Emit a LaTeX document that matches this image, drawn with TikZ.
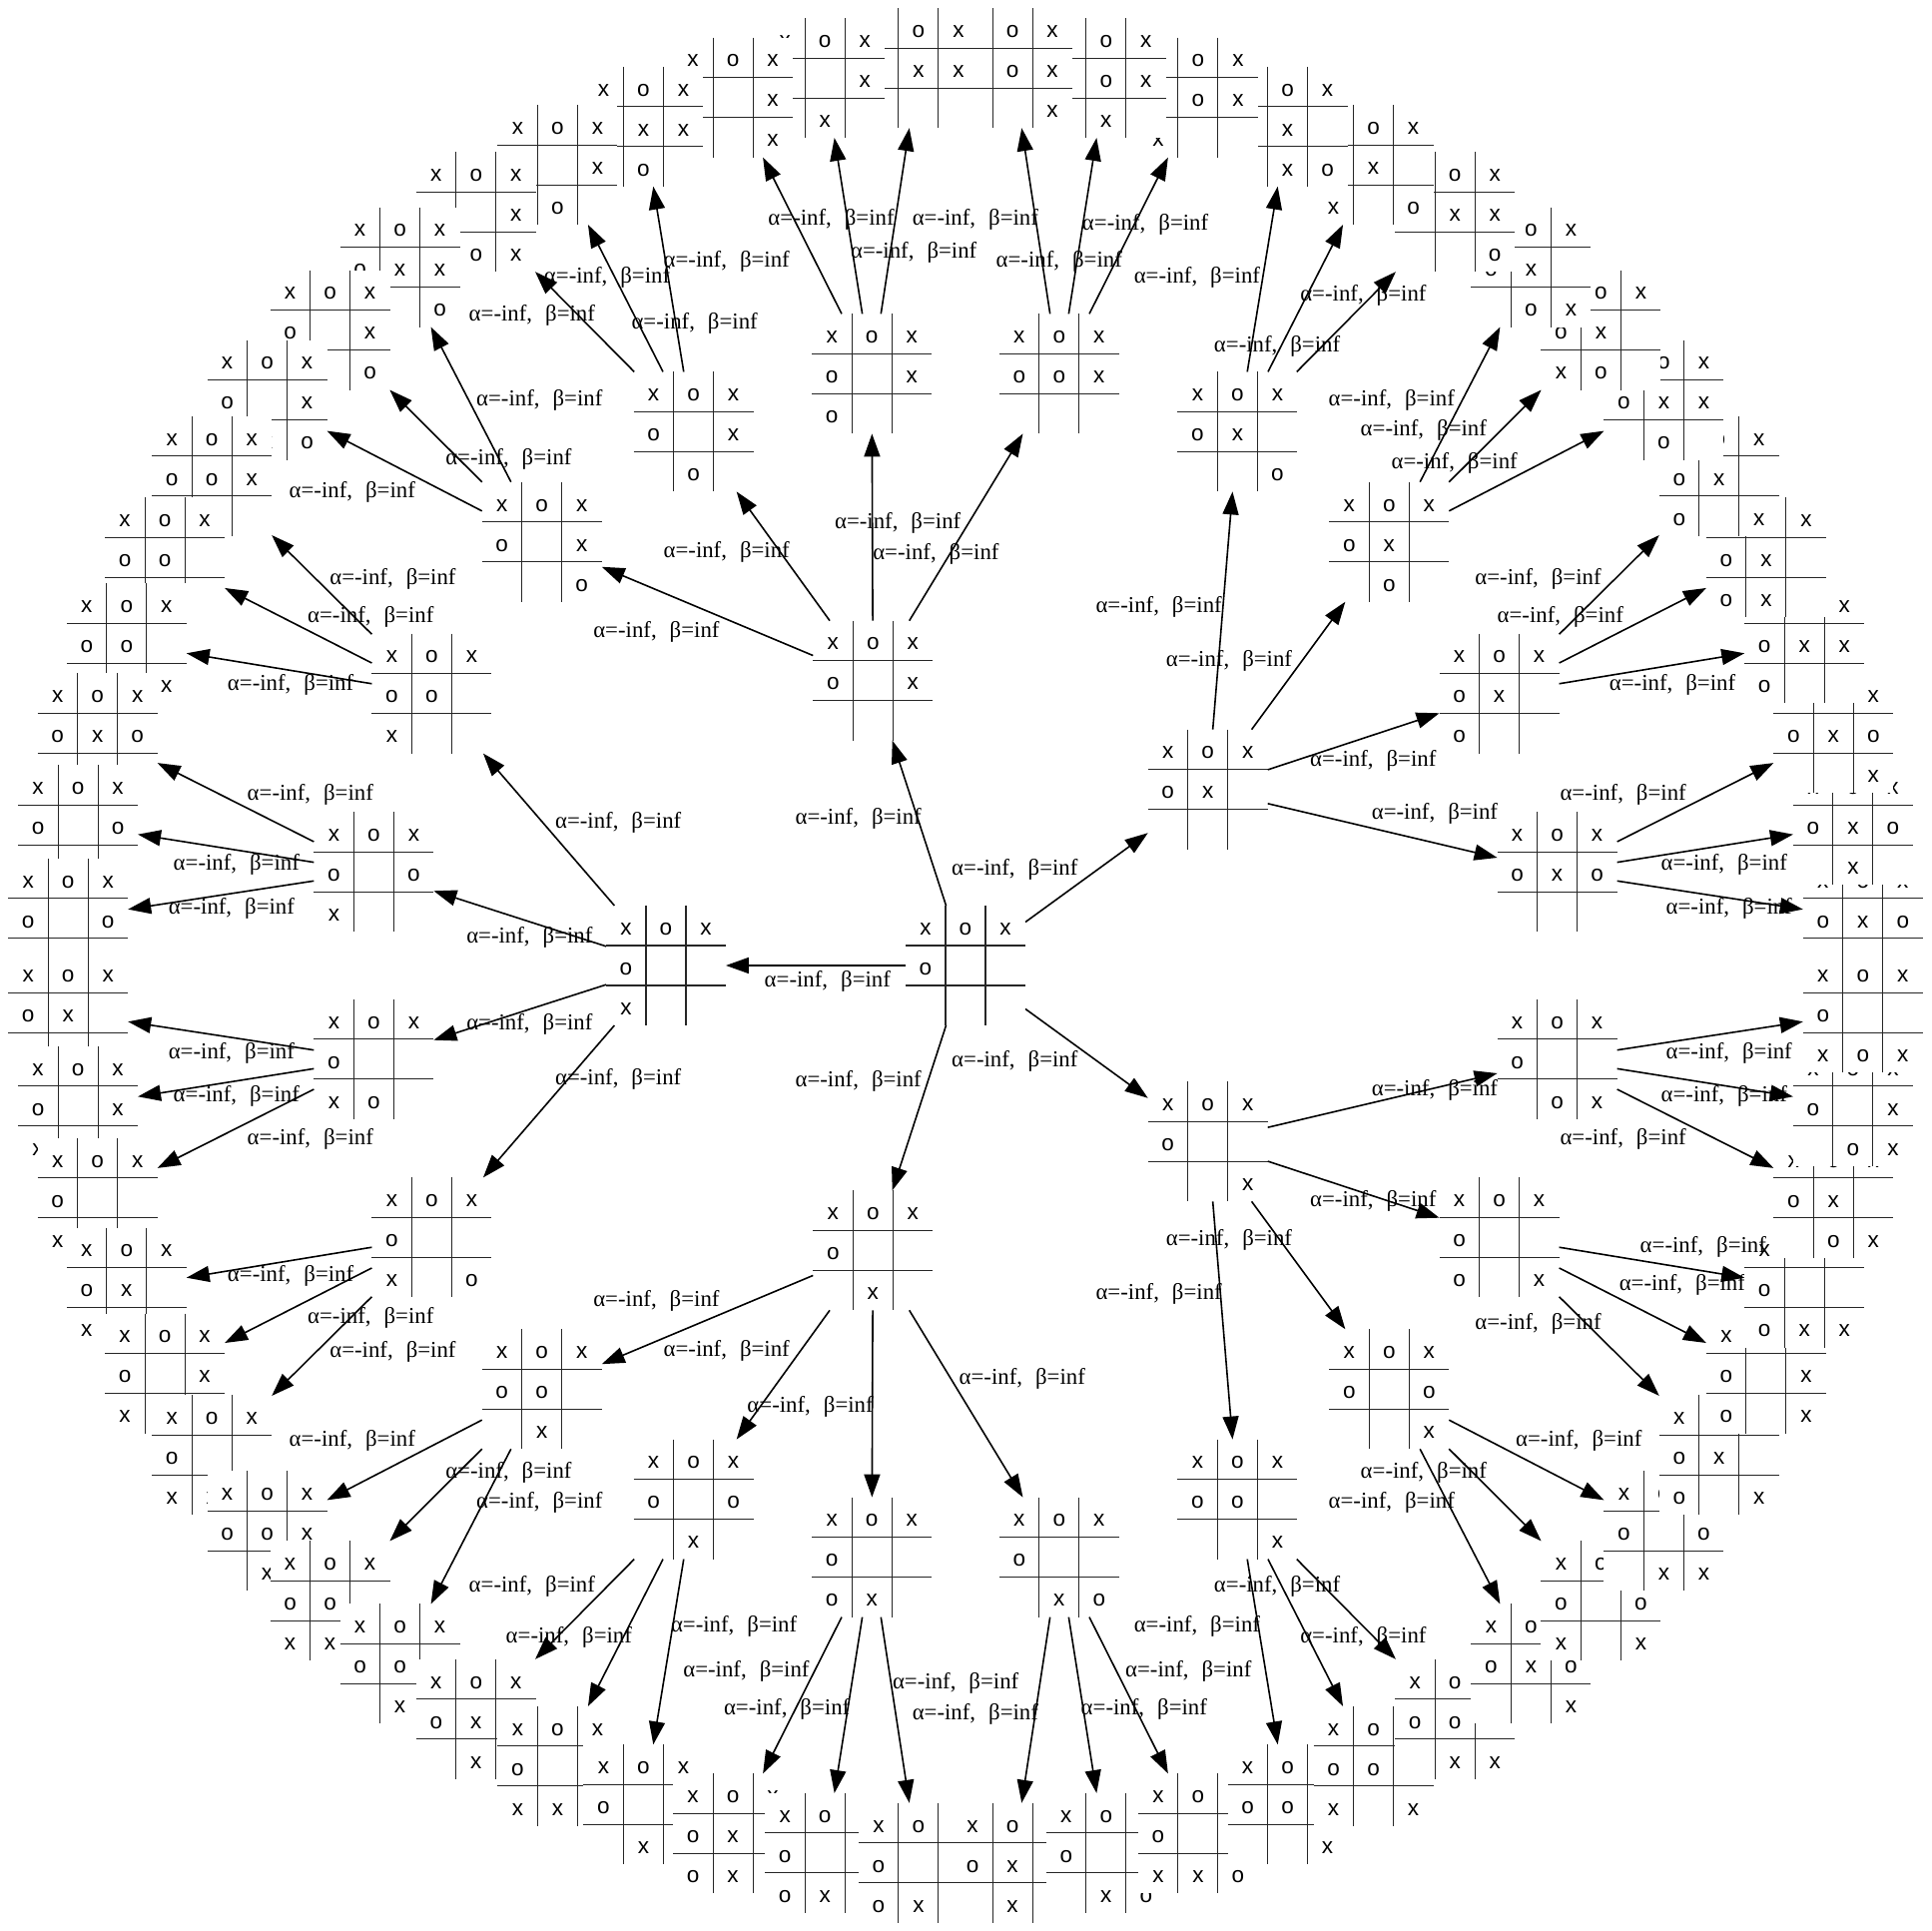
\documentclass[tikz,border=0pt]{standalone}
\usepackage{fontspec}
\setmainfont{Liberation Serif}
\newfontfamily\boardfont{Liberation Sans}
\usetikzlibrary{arrows.meta}
\tikzset{
 board/.style={rectangle, draw=none, fill=white, minimum width=120pt, minimum height=120pt, inner sep=0pt, outer sep=0pt},
 gridl/.style={line width=1.1pt, draw=black!85},
 cellt/.style={anchor=base, inner sep=0pt, font=\boardfont\fontsize{22.5pt}{27pt}\selectfont},
 conn/.style={line width=1.6pt, -{Triangle[length=23pt,width=16pt]}},
 lbl/.style={anchor=base, inner sep=0pt, font=\fontsize{22.8pt}{27pt}\selectfont},
}
\newcommand\labtext{α=-inf,\hspace{13pt}β=inf}
\newcommand\tttcell[6]{\if#6-\else\node[cellt] (#1r#2c#3) at (#4,#5) {#6};\fi}
\newcommand\tttrow[6]{\tttcell{#1}{#2}{1}{-40}{#3}{#4}\tttcell{#1}{#2}{2}{0}{#3}{#5}\tttcell{#1}{#2}{3}{40}{#3}{#6}}
\newcommand\bd[6]{%
 \begin{scope}[shift={(#2:#3)}]
 \node[board] (#1) at (0,0) {};
 \draw[gridl] (-20,60) -- (-20,-60) (20,60) -- (20,-60) (-60,20) -- (60,20) (-60,-20) -- (60,-20);
 \tttrow{#1}{1}{30.7}#4
 \tttrow{#1}{2}{-9.3}#5
 \tttrow{#1}{3}{-49.3}#6
 \end{scope}}
\newcommand\edg[4]{\draw[conn] (#1) -- (#2); \node[lbl] (L#2) at ({1.23342*#3-967},{967-1.23342*(#4+4.5)}) {\labtext};}
\begin{document}
\begin{tikzpicture}[x=1pt,y=1pt]
\useasboundingbox[fill=white] (-967,-967) rectangle (967,967);
\bd{R}{0}{0}{xox}{o--}{---}
\bd{C0}{36}{300}{xox}{ox-}{---} \edg{R}{C0}{824}{706}
\bd{C1}{108}{300}{xox}{o-x}{---} \edg{R}{C1}{697}{665}
\bd{C2}{180}{300}{xox}{o--}{x--} \edg{R}{C2}{672}{797}
\bd{C3}{252}{300}{xox}{o--}{-x-} \edg{R}{C3}{697}{878}
\bd{C4}{324}{300}{xox}{o--}{--x} \edg{R}{C4}{824}{862}
% C0
\bd{M0}{9}{600}{xox}{oxo}{---} \edg{C0}{M0}{1165}{661}
\bd{M1}{27}{600}{xox}{ox-}{o--} \edg{C0}{M1}{1115}{618}
\bd{M2}{45}{600}{xox}{ox-}{-o-} \edg{C0}{M2}{998}{537}
\bd{M3}{63}{600}{xox}{ox-}{--o} \edg{C0}{M3}{941}{493}
\bd{N0}{3}{900}{xox}{oxo}{x--} \edg{M0}{N0}{1404}{738}
\bd{N1}{9}{900}{xox}{oxo}{-x-} \edg{M0}{N1}{1400}{702}
\bd{N2}{15}{900}{xox}{oxo}{--x} \edg{M0}{N2}{1318}{645}
\bd{N3}{21}{900}{xox}{oxx}{o--} \edg{M1}{N3}{1358}{556}
\bd{N4}{27}{900}{xox}{ox-}{ox-} \edg{M1}{N4}{1267}{501}
\bd{N5}{33}{900}{xox}{ox-}{o-x} \edg{M1}{N5}{1249}{470}
\bd{N6}{39}{900}{xox}{oxx}{-o-} \edg{M2}{N6}{1181}{376}
\bd{N7}{45}{900}{xox}{ox-}{xo-} \edg{M2}{N7}{1156}{349}
\bd{N8}{51}{900}{xox}{ox-}{-ox} \edg{M2}{N8}{1130}{325}
\bd{N9}{57}{900}{xox}{oxx}{--o} \edg{M3}{N9}{1037}{281}
\bd{N10}{63}{900}{xox}{ox-}{x-o} \edg{M3}{N10}{1107}{240}
\bd{N11}{69}{900}{xox}{ox-}{-xo} \edg{M3}{N11}{972}{225}
% C1
\bd{M4}{81}{600}{xox}{oox}{---} \edg{C1}{M4}{729}{425}
\bd{M5}{99}{600}{xox}{o-x}{o--} \edg{C1}{M5}{760}{450}
\bd{M6}{117}{600}{xox}{o-x}{-o-} \edg{C1}{M6}{590}{448}
\bd{M7}{135}{600}{xox}{o-x}{--o} \edg{C1}{M7}{533}{513}
\bd{N12}{75}{900}{xox}{oox}{x--} \edg{M4}{N12}{860}{212}
\bd{N13}{81}{900}{xox}{oox}{-x-} \edg{M4}{N13}{930}{182}
\bd{N14}{87}{900}{xox}{oox}{--x} \edg{M4}{N14}{792}{178}
\bd{N15}{93}{900}{xox}{oxx}{o--} \edg{M5}{N15}{675}{178}
\bd{N16}{99}{900}{xox}{o-x}{ox-} \edg{M5}{N16}{742}{205}
\bd{N17}{105}{900}{xox}{o-x}{o-x} \edg{M5}{N17}{590}{212}
\bd{N18}{111}{900}{xox}{oxx}{-o-} \edg{M6}{N18}{493}{225}
\bd{N19}{117}{900}{xox}{o-x}{xo-} \edg{M6}{N19}{564}{263}
\bd{N20}{123}{900}{xox}{o-x}{-ox} \edg{M6}{N20}{432}{256}
\bd{N21}{129}{900}{xox}{oxx}{--o} \edg{M7}{N21}{438}{325}
\bd{N22}{135}{900}{xox}{o-x}{x-o} \edg{M7}{N22}{413}{373}
\bd{N23}{141}{900}{xox}{o-x}{-xo} \edg{M7}{N23}{286}{400}
% C2
\bd{M8}{153}{600}{xox}{oo-}{x--} \edg{C2}{M8}{502}{668}
\bd{M9}{171}{600}{xox}{o-o}{x--} \edg{C2}{M9}{430}{761}
\bd{M10}{189}{600}{xox}{o--}{xo-} \edg{C2}{M10}{430}{832}
\bd{M11}{207}{600}{xox}{o--}{x-o} \edg{C2}{M11}{502}{876}
\bd{N24}{147}{900}{xox}{oox}{x--} \edg{M8}{N24}{319}{470}
\bd{N25}{153}{900}{xox}{oo-}{xx-} \edg{M8}{N25}{301}{501}
\bd{N26}{159}{900}{xox}{oo-}{x-x} \edg{M8}{N26}{236}{556}
\bd{N27}{165}{900}{xox}{oxo}{x--} \edg{M9}{N27}{252}{645}
\bd{N28}{171}{900}{xox}{o-o}{xx-} \edg{M9}{N28}{192}{702}
\bd{N29}{177}{900}{xox}{o-o}{x-x} \edg{M9}{N29}{188}{738}
\bd{N30}{183}{900}{xox}{ox-}{xo-} \edg{M10}{N30}{188}{855}
\bd{N31}{189}{900}{xox}{o-x}{xo-} \edg{M10}{N31}{192}{890}
\bd{N32}{195}{900}{xox}{o--}{xox} \edg{M10}{N32}{252}{925}
\bd{N33}{201}{900}{xox}{ox-}{x-o} \edg{M11}{N33}{236}{1036}
\bd{N34}{207}{900}{xox}{o-x}{x-o} \edg{M11}{N34}{301}{1070}
\bd{N35}{213}{900}{xox}{o--}{xxo} \edg{M11}{N35}{319}{1098}
% C3
\bd{M12}{225}{600}{xox}{oo-}{-x-} \edg{C3}{M12}{533}{1056}
\bd{M13}{243}{600}{xox}{o-o}{-x-} \edg{C3}{M13}{590}{1097}
\bd{M14}{261}{600}{xox}{o--}{ox-} \edg{C3}{M14}{658}{1142}
\bd{M15}{279}{600}{xox}{o--}{-xo} \edg{C3}{M15}{830}{1120}
\bd{N36}{219}{900}{xox}{oox}{-x-} \edg{M12}{N36}{286}{1170}
\bd{N37}{225}{900}{xox}{oo-}{xx-} \edg{M12}{N37}{413}{1196}
\bd{N38}{231}{900}{xox}{oo-}{-xx} \edg{M12}{N38}{438}{1220}
\bd{N39}{237}{900}{xox}{oxo}{-x-} \edg{M13}{N39}{432}{1288}
\bd{N40}{243}{900}{xox}{o-o}{xx-} \edg{M13}{N40}{462}{1330}
\bd{N41}{249}{900}{xox}{o-o}{-xx} \edg{M13}{N41}{596}{1321}
\bd{N42}{255}{900}{xox}{ox-}{ox-} \edg{M14}{N42}{606}{1357}
\bd{N43}{261}{900}{xox}{o-x}{ox-} \edg{M14}{N43}{639}{1388}
\bd{N44}{267}{900}{xox}{o--}{oxx} \edg{M14}{N44}{776}{1367}
\bd{N45}{273}{900}{xox}{ox-}{-xo} \edg{M15}{N45}{792}{1392}
\bd{N46}{279}{900}{xox}{o-x}{-xo} \edg{M15}{N46}{929}{1388}
\bd{N47}{285}{900}{xox}{o--}{xxo} \edg{M15}{N47}{965}{1357}
% C4
\bd{M16}{297}{600}{xox}{oo-}{--x} \edg{C4}{M16}{941}{1051}
\bd{M17}{315}{600}{xox}{o-o}{--x} \edg{C4}{M17}{998}{1007}
\bd{M18}{333}{600}{xox}{o--}{o-x} \edg{C4}{M18}{1115}{975}
\bd{M19}{351}{600}{xox}{o--}{-ox} \edg{C4}{M19}{1165}{885}
\bd{N48}{291}{900}{xox}{oox}{--x} \edg{M16}{N48}{972}{1321}
\bd{N49}{297}{900}{xox}{oo-}{x-x} \edg{M16}{N49}{1107}{1330}
\bd{N50}{303}{900}{xox}{oo-}{-xx} \edg{M16}{N50}{1037}{1288}
\bd{N51}{309}{900}{xox}{oxo}{--x} \edg{M17}{N51}{1130}{1220}
\bd{N52}{315}{900}{xox}{o-o}{x-x} \edg{M17}{N52}{1156}{1196}
\bd{N53}{321}{900}{xox}{o-o}{-xx} \edg{M17}{N53}{1282}{1170}
\bd{N54}{327}{900}{xox}{ox-}{o-x} \edg{M18}{N54}{1249}{1075}
\bd{N55}{333}{900}{xox}{o-x}{o-x} \edg{M18}{N55}{1366}{1043}
\bd{N56}{339}{900}{xox}{o--}{oxx} \edg{M18}{N56}{1383}{1013}
\bd{N57}{345}{900}{xox}{ox-}{-ox} \edg{M19}{N57}{1318}{925}
\bd{N58}{351}{900}{xox}{o-x}{-ox} \edg{M19}{N58}{1400}{890}
\bd{N59}{357}{900}{xox}{o--}{xox} \edg{M19}{N59}{1404}{855}
\end{tikzpicture}
\end{document}
